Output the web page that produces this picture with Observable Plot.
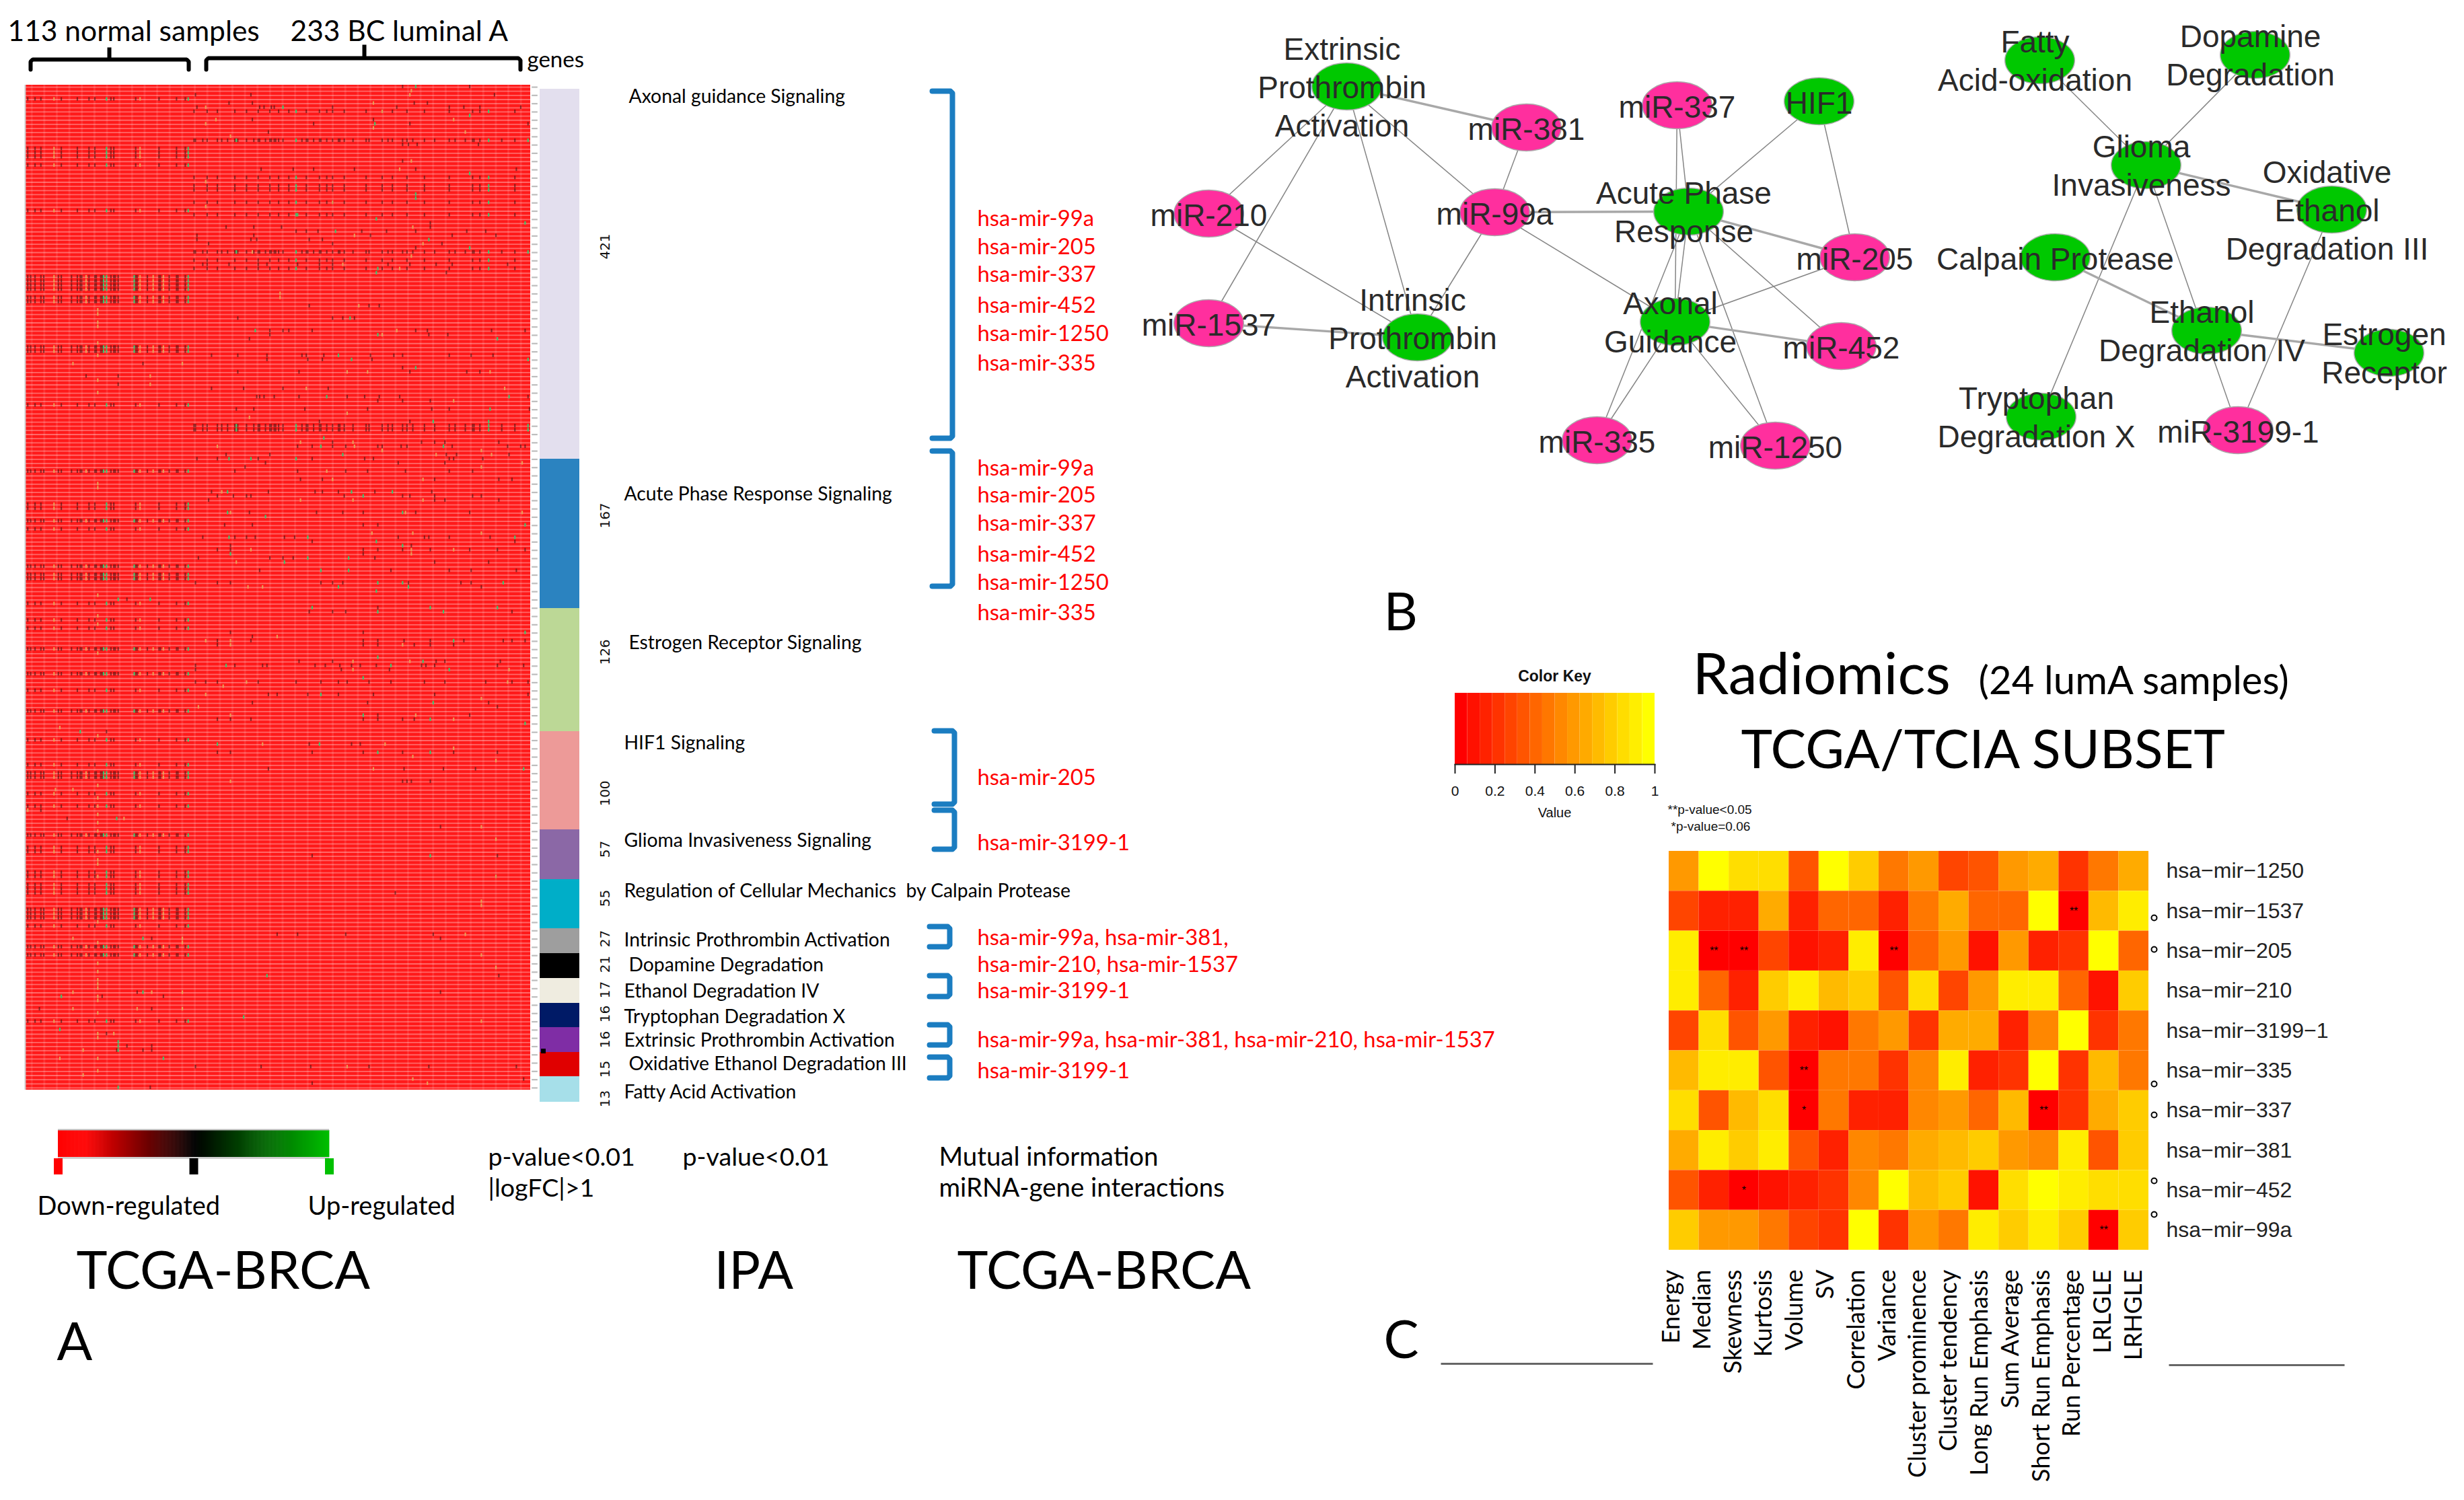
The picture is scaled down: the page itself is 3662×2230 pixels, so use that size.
<!DOCTYPE html>
<html><head><meta charset="utf-8">
<style>html,body{margin:0;padding:0;background:#fff}#page{position:relative;width:3662px;height:2230px;overflow:hidden;background:#fff}#page svg{position:absolute;background:transparent;max-width:none}</style>
<script src="https://cdn.jsdelivr.net/npm/d3@7"></script>
<script src="https://cdn.jsdelivr.net/npm/@observablehq/plot@0.6"></script>
</head><body><div id="page"></div>
<script>
// ---------- Panel A data ----------
const nSamples = 346, nRows = 243;
const pathwayNames = ["Axonal guidance Signaling","Acute Phase Response Signaling","Estrogen Receptor Signaling","HIF1 Signaling","Glioma Invasiveness Signaling","Regulation of Cellular Mechanics\u00a0 by Calpain Protease","Intrinsic Prothrombin Activation","Dopamine Degradation","Ethanol Degradation IV","Tryptophan Degradation X","Extrinsic Prothrombin Activation","Oxidative Ethanol Degradation III","Fatty Acid Activation"];
const geneCounts = [421,167,126,100,57,55,27,21,17,16,16,15,13];
const barColors = ["#e3dfee","#2b83c0","#bcd896","#ed9a98","#8b68a6","#00aec8","#9e9e9e","#000000","#efece0","#001a66","#7f2da5","#e00000","#a6dfe9"];
const barEdges = [132,682,904,1087,1233,1307,1380,1417,1454,1491,1527,1564,1600,1638];

const normalDense = [1,3,6,10,12,22,24,31,35,37,38,43,47,48,51,52,58,60,61,63,75,76,83,91,92,98,103,104,109];
const normalSparse = [1,6,10,24,35,43,47,58,60,75,91,103,109];
const normalDenseGreen = [53,55,74,111], normalDenseTan = [19,41,78,87,94];
const normalSparseGreen = [55,111], normalSparseTan = [19,78];
const normalDenseRows = [46,47,48,49,51,52,63,64,93,105,116,118,119,136,142,151,166,167,181,199,200,201,208,210];
const normalSparseRows = [3,15,16,17,19,30,77,101,102,107,125,129,131,146,158,164,171,174,184,185,190,191,193,194,195,203,226];
const tumorDense = [115,116,121,124,131,134,138,143,145,151,156,159,160,164,167,168,170,171,173,176,189,192,193,197,201,202,206,210,214,215,218,224,233,235,244,248,251,258,261,265,273,280,290,294,301,306,307,311,326,335];
const tumorMedium = [115,124,131,143,151,159,167,173,180,192,201,206,210,218,233,244,251,261,273,290,306,311,335];
const tumorDenseGreen = [144,185,317,344], tumorMediumGreen = [185,317];
const tumorDenseRows = [13,40,82,83];
const tumorMediumRows = [6,22,24,25,28,31,42,44];

const tanRows = [[1,[264]],[2,[263]],[4,[238]],[5,[123]],[6,[244]],[8,[293,130]],[9,[123]],[10,[238]],[11,[301]],[12,[140]],[18,[264]],[20,[256]],[23,[123]],[28,[210]],[29,[123]],[34,[265]],[36,[225]],[38,[272]],[40,[155]],[41,[264]],[43,[217]],[44,[256]],[50,[174]],[51,[174]],[53,[228]],[54,[49]],[55,[49]],[57,[49]],[58,[49]],[59,[254]],[60,[244]],[62,[49]],[65,[49]],[67,[32,107]],[69,[220,234,318]],[70,[85]],[71,[49]],[72,[85]],[73,[192,328]],[74,[49]],[76,[293]],[79,[220]],[80,[153]],[86,[188,224]],[87,[131,225]],[88,[244,312]],[89,[281,319]],[91,[340]],[92,[312]],[93,[206]],[95,[210,272]],[96,[49]],[97,[49]],[98,[134]],[100,[188,224,272]],[103,[140,260,340]],[108,[237,265,312]],[112,[154,264,293]],[113,[264]],[115,[144]],[121,[152,162]],[123,[49]],[128,[49]],[130,[49]],[133,[172]],[134,[123,140]],[135,[140,258]],[137,[49]],[139,[224,263]],[141,[224,331]],[144,[151,330]],[145,[135]],[147,[123]],[148,[312]],[150,[118]],[152,[140,267]],[153,[293]],[155,[23]],[157,[49]],[159,[162,246]],[160,[293]],[162,[265]],[163,[322]],[165,[238]],[168,[140]],[169,[49]],[170,[20,32]],[172,[49]],[174,[49]],[175,[1]],[176,[49]],[177,[67]],[178,[49]],[179,[312]],[180,[49]],[182,[322]],[185,[49]],[187,[49]],[188,[49]],[191,[49,322]],[197,[312]],[198,[312]],[202,[49]],[205,[301]],[206,[32,107]],[207,[49,107]],[210,[312]],[212,[49]],[213,[322]],[214,[49]],[216,[49]],[217,[49]],[218,[49]],[219,[32,107,86]],[220,[49]],[221,[49]],[223,[32,107,76]],[224,[49]],[226,[312]],[229,[49,60]],[230,[49]],[233,[39]],[235,[23,49]],[237,[220]],[238,[49]],[239,[39]],[240,[265]],[241,[275]]];
const greenRows = [[0,[267]],[5,[176]],[7,[304]],[9,[239]],[21,[304]],[27,[267]],[26,[267]],[31,[186]],[32,[240]],[33,[342]],[35,[212]],[37,[276]],[39,[304]],[44,[241]],[45,[240]],[56,[222]],[59,[157]],[60,[241]],[61,[323]],[65,[214]],[66,[344,223]],[68,[267]],[75,[331,206]],[78,[318]],[81,[279,317]],[85,[204]],[87,[202,286]],[89,[217]],[90,[185,139,154]],[98,[138,223,251]],[99,[231]],[103,[138,258]],[104,[164]],[106,[342]],[109,[139,193,335]],[110,[240]],[111,[258]],[113,[140]],[114,[193,221]],[115,[177]],[117,[202,221]],[120,[241,258,327]],[121,[214,262]],[122,[240]],[124,[63,85]],[126,[196,277,323]],[127,[286,241]],[132,[342]],[134,[293]],[138,[241]],[139,[272]],[140,[137,250]],[141,[290]],[143,[231]],[147,[202]],[149,[279]],[152,[231]],[153,[277]],[154,[342]],[156,[37]],[159,[131,201]],[161,[241,277]],[165,[341]],[177,[62]],[186,[277]],[206,[80]],[215,[165]],[219,[80]],[220,[24]],[225,[149]],[228,[23]],[231,[63]],[232,[63]],[233,[63]],[235,[94]],[242,[63]]];
const darkRows = [[0,[258,304]],[2,[154,321,116]],[4,[139,155,275,266]],[5,[117,160,163,168,170,210,254,290,300,311,339]],[8,[155,238]],[9,[263,344,197]],[11,[166]],[14,[258,262,268,310]],[18,[258]],[20,[183,267,336,161,197,225]],[33,[277]],[34,[156,137,175,277]],[35,[185,302,315,267,192,200,230,247]],[36,[117,156,292,236,322]],[37,[117,154,194,203,158]],[38,[125,210,285]],[39,[267]],[43,[121,124,139,159,165,186,201,210,248,263,281,292,330]],[45,[288]],[53,[194,242,235]],[56,[210,225,217,145]],[59,[167,176,180,196,267,275,319,342]],[60,[276,167,289]],[61,[153]],[65,[127,145,165,189,192,204,236,252,258,290,305,320]],[66,[165,193,203,237]],[67,[80]],[68,[258]],[69,[145,187,263,302,311]],[70,[63,41]],[72,[63]],[73,[176,207,149,127]],[75,[158,160,163,170,187,220,232,242,256,344]],[76,[241,258,277]],[78,[144,156,191,234,278,290,345]],[81,[201,263]],[86,[210,271,280,287,324]],[87,[186,196,210,219,241,244,257,261,292,330,339,342]],[89,[137,167,288,295,331]],[90,[117,131,159,196,232,238,290,293,313]],[91,[164,255,287]],[92,[150]],[93,[143,186,219,234,260,290,306]],[95,[188,203,280,324,333]],[98,[127,166,198,203,214,239,278]],[99,[131,142,151,154,218,258,263,280,306,312]],[100,[125,280,287,324]],[103,[153,199,217,231,267,304]],[106,[136,155,231,241]],[109,[121,143,151,157,177,184,255,273,276,290,318]],[110,[196,335]],[111,[140,264]],[112,[131,140,231,241,258,277,304,323,342]],[113,[231]],[114,[118,167,176,183,239]],[115,[280,317]],[117,[160,250,290,305,336]],[120,[116,131,140,202,210,217,262,298,305]],[121,[312]],[124,[69]],[126,[241]],[127,[194,210,219,333]],[132,[140,231]],[133,[155]],[134,[131,154,231,241,259,277,300,327,333,342]],[135,[131,231,241,266,277,293]],[139,[210,281,287,187,325]],[140,[116,143,162,165,198,205,215,223,229,240,271,274,280,323,341]],[141,[116,216,249]],[144,[116,123,131,159,185,202,214,220,235,250,273,287,315,333,344]],[147,[166,172,193,214,238,280,344]],[149,[155,234,317]],[150,[323]],[152,[241,304]],[153,[131,140,154,231,241,258,266]],[156,[55]],[159,[194,223,229]],[161,[131,140,196,231,258,293,323]],[165,[259,308,286,166]],[168,[258,261,264,277]],[175,[10]],[177,[28]],[179,[284]],[186,[196,323]],[191,[322]],[195,[253]],[205,[279,186,172,219]],[206,[284,86]],[215,[324]],[219,[76,284]],[220,[52,94]],[223,[9,86]],[229,[55]],[232,[69,86]],[233,[86,62,80]],[237,[161,195,116,235,276,336]],[240,[341]],[241,[196]],[242,[85]]];

// ---------- Panel B data ----------
const nodeNames = ["Extrinsic\nProthrombin\nActivation","miR-381","miR-337","HIF1","miR-210","miR-99a","Acute Phase\nResponse","miR-205","miR-1537","Intrinsic\nProthrombin\nActivation","Axonal\nGuidance","miR-452","miR-335","miR-1250","Fatty\nAcid-oxidation","Dopamine\nDegradation","Glioma\nInvasiveness","Oxidative\nEthanol\nDegradation III","Calpain Protease","Ethanol\nDegradation IV","Estrogen\nReceptor","Tryptophan\nDegradation X","miR-3199-1"];
const nodeX = [2001,2268,2492,2703,1796,2221,2509,2756,1796,2106,2489,2736,2373,2638,3031,3351,3189,3465,3054,3279,3550,3033,3326];
const nodeY = [128,189,156,150,317,315,314,382,480,501,478,514,654,662,89,81,245,311,382,491,524,619,639];
const edgesThin = [[0,4],[0,8],[0,9],[0,5],[1,5],[5,9],[5,10],[4,9],[2,6],[2,10],[3,6],[3,7],[6,11],[6,12],[6,13],[6,10],[10,7],[10,12],[10,13],[14,16],[15,16],[16,21],[16,22],[17,22]];
const edgesThick = [[0,1],[5,6],[8,9],[6,7],[10,11],[16,17],[18,19],[19,20]];

// ---------- Panel C data ----------
const radiomicFeatures = ["Energy","Median","Skewness","Kurtosis","Volume","SV","Correlation","Variance","Cluster prominence","Cluster tendency","Long Run Emphasis","Sum Average","Short Run Emphasis","Run Percentage","LRLGLE","LRHGLE"];
const mirnas = ["hsa−mir−1250","hsa−mir−1537","hsa−mir−205","hsa−mir−210","hsa−mir−3199−1","hsa−mir−335","hsa−mir−337","hsa−mir−381","hsa−mir−452","hsa−mir−99a"];
const corr1250 = [.6,1,.87,.87,.33,1,.8,.47,.6,.27,.33,.6,.67,.2,.47,.67];
const corr1537 = [.27,.13,.13,.67,.13,.4,.4,.13,.47,.67,.4,.4,1,0,.73,.93];
const corr205 = [.93,0,0,.27,.07,.13,.93,0,.4,.6,.07,.6,.13,.2,1,.4];
const corr210 = [.93,.4,.13,.8,.93,.73,.8,.33,.87,.27,.6,.93,.93,.4,.07,.8];
const corr3199 = [.27,.87,.33,.6,.13,.07,.47,.6,.2,.67,.67,.13,.53,1,.2,.47];
const corr335 = [.73,.93,.93,.33,0,.47,.47,.2,.53,.93,.13,.2,1,.2,.73,.47];
const corr337 = [.87,.33,.73,.87,0,.47,.13,.13,.53,.6,.4,.73,0,.2,.67,.8];
const corr381 = [.67,.93,.8,.93,.33,.13,.53,.47,.67,.73,.8,.6,.53,.93,.33,.8];
const corr452 = [.33,.13,0,.07,.13,.2,.53,1,.73,.8,.07,.87,1,.93,.87,.87];
const corr99a = [.8,.6,.6,.47,.27,.2,1,.2,.6,.47,.93,.8,.93,.8,0,.8];
const corrRows = [corr1250,corr1537,corr205,corr210,corr3199,corr335,corr337,corr381,corr452,corr99a];
const starCells = [[1,13,"**"],[2,1,"**"],[2,2,"**"],[2,7,"**"],[5,4,"**"],[6,4,"*"],[6,12,"**"],[8,2,"*"],[9,14,"**"]];
const keyTicks = [0,.2,.4,.6,.8,1];
const keyLevels = d3.range(16);

// ---------- Figure texts ----------
const cal = "Lato, Carlito, Calibri, 'Open Sans', sans-serif";
const ari = "'Liberation Sans', Arial, sans-serif";
const figureTexts = [
 ["113 normal samples",11,47,42.5],["233 BC luminal A",431,47,42.5],["genes",783,89,33],
 ["Down-regulated",55,1793,38],["Up-regulated",457,1793,38],
 ["p-value<0.01",725,1720,37.6],["|logFC|>1",725,1766,37.6],["p-value<0.01",1014,1720,37.6],
 ["Mutual information",1395,1720,38.4],["miRNA-gene interactions",1395,1766,38.4],
 ["TCGA-BRCA",113,1891,78],["IPA",1061,1891,78],["TCGA-BRCA",1422,1891,78],
 ["A",84,1997,78],["B",2056,912,78],["C",2056,1994,78],
 ["Radiomics",2515,1004,86],["(24 lumA samples)",2940,1013,58],["TCGA/TCIA SUBSET",2587,1116,79]
];
const pathwayLabelX = [934,927,934,927,927,927,927,934,927,927,927,934,927];
const pathwayLabelY = [143,734,955,1104,1249,1324,1397,1434,1473,1511,1546,1581,1623];
const geneCountY = [366,766,969,1179,1262,1335,1395,1433,1471,1507,1545,1589,1633];
const mirLists = ["hsa-mir-99a","hsa-mir-205","hsa-mir-337","hsa-mir-452","hsa-mir-1250","hsa-mir-335","hsa-mir-99a","hsa-mir-205","hsa-mir-337","hsa-mir-452","hsa-mir-1250","hsa-mir-335","hsa-mir-205","hsa-mir-3199-1","hsa-mir-99a, hsa-mir-381,","hsa-mir-210, hsa-mir-1537","hsa-mir-3199-1","hsa-mir-99a, hsa-mir-381, hsa-mir-210, hsa-mir-1537","hsa-mir-3199-1"];
const mirListY = [325,367,408,454,496,540,696,736,778,824,866,911,1156,1253,1394,1434,1473,1546,1592];
const bracketSpans = [[135,651,1415],[670,871,1415],[1086,1195,1418],[1204,1262,1418],[1377,1407,1411],[1450,1481,1411],[1523,1553,1411],[1571,1602,1411]];
const braceSpans = [[45,280,162,88,70],[306,773,541,86,66]];
const rowMarkerY = [1364,1411,1611,1657,1755,1805];
const dividers = [[2141,2456,2027],[3223,3484,2029]];

// ---------- Build ----------
const page = document.getElementById("page");
function place(svg,left,top){svg.style.left=left+"px";svg.style.top=top+"px";page.appendChild(svg);}

// Panel A heatmap
const flat = (rows,kind)=>rows.flatMap(([r,ss])=>ss.map(s=>({r,s,kind})));
const byRowList = (rows,list,kind)=>rows.flatMap(r=>list.map(s=>({r,s,kind})));
const cells = [
 ...byRowList(normalDenseRows,normalDense,"d"),...byRowList(normalDenseRows,normalDenseGreen,"g"),...byRowList(normalDenseRows,normalDenseTan,"t"),
 ...byRowList(normalSparseRows,normalSparse,"d"),...byRowList(normalSparseRows,normalSparseGreen,"g"),...byRowList(normalSparseRows,normalSparseTan,"t"),
 ...byRowList(tumorDenseRows,tumorDense,"d"),...byRowList(tumorDenseRows,tumorDenseGreen,"g"),
 ...byRowList(tumorMediumRows,tumorMedium,"d"),...byRowList(tumorMediumRows,tumorMediumGreen,"g"),
 ...flat(darkRows,"d"),...flat(tanRows,"t"),...flat(greenRows,"g")];
const kindFill = {d:"#4a1512",g:"#2bd070",t:"#e8a55a"};
const rowIdx = d3.range(nRows);
place(Plot.plot({width:764,height:1494,margin:0,marginLeft:2,marginRight:12,
 x:{domain:[0,nSamples],axis:null},y:{domain:[0,nRows],range:[0,1494],axis:null},
 marks:[
  Plot.rect([0],{x1:0,x2:nSamples,y1:0,y2:nRows,fill:"#ff1a1a"}),
  Plot.ruleY(rowIdx,{y:d=>d+.5,stroke:"#ffffff",strokeOpacity:.34,strokeWidth:1.8,x1:0,x2:nSamples}),
  Plot.ruleX(d3.range(4,nSamples,8.6),{stroke:"#ffffff",strokeOpacity:.1,strokeWidth:3}),
  Plot.rect(cells,{x1:d=>d.s,x2:d=>d.s+1,y1:d=>d.r,y2:d=>d.r+.85,fill:d=>kindFill[d.kind],fillOpacity:d=>d.kind=="d"?.62:.9}),
  Plot.ruleY(rowIdx.filter(r=>r%2==0),{y:d=>d+.5,x1:nSamples+1,x2:nSamples+5,stroke:"#bdbdbd",strokeWidth:2.2}),
  Plot.ruleX([-.5],{y1:0,y2:nRows,stroke:"#cfcfcf",strokeWidth:2})
 ]}),36,126);

// Side bar: gene counts stacked on a piecewise scale
const cum = d3.cumsum(geneCounts);
const bars = geneCounts.map((g,i)=>({name:pathwayNames[i],g,y1:i?cum[i-1]:0,y2:cum[i],c:barColors[i]}));
place(Plot.plot({width:59,height:1506,margin:0,
 x:{axis:null,domain:[0,1]},
 y:{axis:null,type:"linear",domain:[0,...cum],range:barEdges.map(e=>e-132)},
 marks:[Plot.rect(bars,{x1:0,x2:1,y1:"y1",y2:"y2",fill:"c"})]}),802,132);

// Whole-page annotation layer
const pageScale = {x:{domain:[0,3662],range:[0,3662],axis:null},y:{domain:[0,2230],range:[0,2230],axis:null}};
const polyBrackets = bracketSpans.flatMap(([y1,y2,xr],i)=>[[xr-30,y1],[xr-3,y1],[xr,y1+3],[xr,y2-3],[xr-3,y2],[xr-30,y2]].map(([x,y])=>({id:i,x,y})));
const polyBraces = braceSpans.flatMap(([a,b,n,h,top],i)=>[[a,103],[a,h+3],[a+3,h],[n,h],[n,top],[n,h],[b-3,h],[b,h+3],[b,103]].map(([x,y])=>({id:i,x,y})));
const nodes = nodeNames.map((name,i)=>({name,x:nodeX[i],y:nodeY[i],pink:name.startsWith("miR"),multi:name.includes("\n")}));
const ellipse = {draw(c,size){const r=Math.sqrt(size/Math.PI),a=r*1.48,b=r,k=.5523;c.moveTo(a,0);c.bezierCurveTo(a,k*b,k*a,b,0,b);c.bezierCurveTo(-k*a,b,-a,k*b,-a,0);c.bezierCurveTo(-a,-k*b,-k*a,-b,0,-b);c.bezierCurveTo(k*a,-b,a,-k*b,a,0);c.closePath();}};
place(Plot.plot({width:3662,height:2230,margin:0,...pageScale,
 marks:[
  Plot.line(polyBrackets,{x:"x",y:"y",z:"id",stroke:"#1b7dc1",strokeWidth:8,strokeLinejoin:"round"}),
  Plot.line(polyBraces,{x:"x",y:"y",z:"id",stroke:"#000",strokeWidth:6,strokeLinejoin:"miter"}),
  Plot.text(pathwayNames,{x:(d,i)=>pathwayLabelX[i],y:(d,i)=>pathwayLabelY[i],text:d=>d,textAnchor:"start",fontFamily:cal,fontSize:28.3,fill:"#000"}),
  Plot.text(geneCounts,{x:899,y:(d,i)=>geneCountY[i],text:d=>d,rotate:-90,fontFamily:"'DejaVu Sans'",fontSize:20,fill:"#111"}),
  Plot.text(mirLists,{x:1452,y:(d,i)=>mirListY[i],text:d=>d,textAnchor:"start",fontFamily:cal,fontSize:32.8,fill:"#ff0000"}),
  Plot.text(figureTexts,{x:d=>d[1],y:d=>d[2],text:d=>d[0],fontSize:d=>d[3],textAnchor:"start",fontFamily:cal,fill:"#000"}),
  Plot.link(edgesThin,{x1:d=>nodeX[d[0]],y1:d=>nodeY[d[0]],x2:d=>nodeX[d[1]],y2:d=>nodeY[d[1]],stroke:"#858585",strokeWidth:1.5}),
  Plot.link(edgesThick,{x1:d=>nodeX[d[0]],y1:d=>nodeY[d[0]],x2:d=>nodeX[d[1]],y2:d=>nodeY[d[1]],stroke:"#a8a8a8",strokeWidth:3.4}),
  Plot.dot(nodes,{x:"x",y:"y",r:35,symbol:ellipse,fill:d=>d.pink?"#ff2f9e":"#00c800",stroke:"#aaaaaa",strokeWidth:1.5}),
  Plot.text(nodes,{x:d=>d.multi?d.x-7:d.x,y:d=>d.multi?d.y-1:d.y,text:"name",fontFamily:ari,fontSize:46,lineHeight:1.24,fill:"#2a2a2a"}),
  Plot.text(["Color Key"],{x:2310,y:1005,fontFamily:ari,fontWeight:"bold",fontSize:23,fill:"#111",text:d=>d}),
  Plot.text(["Value"],{x:2310,y:1208,fontFamily:ari,fontSize:20,fill:"#111",text:d=>d}),
  Plot.text(["**p-value<0.05"],{x:2478,y:1203,textAnchor:"start",fontFamily:ari,fontSize:19,fill:"#111",text:d=>d}),
  Plot.text(["*p-value=0.06"],{x:2483,y:1228,textAnchor:"start",fontFamily:ari,fontSize:19,fill:"#111",text:d=>d}),
  Plot.dot(rowMarkerY,{x:3201,y:d=>d,r:4,stroke:"#000",strokeWidth:2,fill:"none"}),
  Plot.link(dividers,{x1:d=>d[0],x2:d=>d[1],y1:d=>d[2],y2:d=>d[2],stroke:"#666",strokeWidth:3}),
  Plot.rect([0],{x1:804,x2:811,y1:1559,y2:1566,fill:"#000"})
 ]}),0,0);

// Panel A colour legend
const rampStops = d3.range(-1,1,0.01);
place(Plot.plot({width:440,height:80,margin:0,
 x:{domain:[-1,1],range:[16,419],axis:null},y:{domain:[0,80],range:[0,80],axis:null},
 color:{type:"linear",domain:[-1,-.8,0,1],range:["#ff0000","#ff0000","#000000","#00c000"]},
 marks:[
  Plot.rect(rampStops,{x1:d=>d,x2:d=>d+.012,y1:10,y2:50,fill:d=>d}),
  Plot.ruleY([9,51],{x1:-1,x2:1,stroke:"#bdbdbd",strokeWidth:2}),
  Plot.ruleX([-1,0,1],{x:d=>d,y1:52,y2:76,stroke:d=>d,strokeWidth:13})
 ]}),70,1670);

// Colour key for panel C
const heat = {type:"linear",domain:[0,1],range:["#ff0000","#ffff00"]};
place(Plot.plot({width:357,height:180,marginLeft:30,marginRight:30,marginTop:4,marginBottom:70,
 x:{domain:[0,1]},color:heat,
 marks:[
  Plot.rect(keyLevels,{x1:d=>d/16,x2:d=>(d+1)/16,fill:d=>d/15}),
  Plot.frame({anchor:"bottom",stroke:"#222",strokeWidth:2}),
  Plot.axisX({ticks:keyTicks,tickFormat:String,tickSize:14,tickPadding:18,fontSize:21,fontFamily:ari,stroke:"#222",strokeWidth:2,color:"#111",label:null})
 ]}),2132,1026);

// Panel C heatmap
const matrix = corrRows.flatMap((row,i)=>row.map((v,j)=>({m:mirnas[i],f:radiomicFeatures[j],v})));
const stars = starCells.map(([i,j,t])=>({m:mirnas[i],f:radiomicFeatures[j],t}));
place(Plot.plot({width:1000,height:593,marginLeft:0,marginTop:0,marginBottom:0,marginRight:287,
 x:{domain:radiomicFeatures,axis:null,padding:0,round:false},y:{domain:mirnas,padding:0,round:false,axis:null},color:heat,
 marks:[
  Plot.cell(matrix,{x:"f",y:"m",fill:"v"}),
  Plot.text(stars,{x:"f",y:"m",text:"t",fontSize:16,fill:"#000",fontFamily:ari}),
  Plot.axisY({anchor:"right",tickSize:0,tickPadding:26,fontSize:32,fontFamily:ari,color:"#222",label:null})
 ]}),2480,1265);

// Panel C column labels
place(Plot.plot({width:3662,height:343,margin:0,x:{type:"point",domain:radiomicFeatures,range:[2484,3171],padding:0,round:false,axis:null},
 marks:[Plot.text(radiomicFeatures,{x:d=>d,text:d=>d,frameAnchor:"top",lineAnchor:"middle",textAnchor:"end",rotate:-90,fontFamily:cal,fontSize:36.2,fill:"#000"})]}),0,1887);
</script></body></html>
